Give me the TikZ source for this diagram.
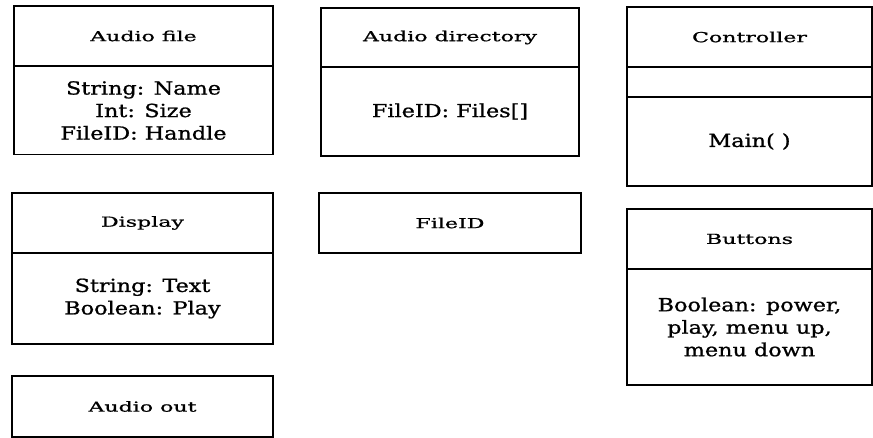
\documentclass[tikz,border=0pt]{standalone}
\usepackage{fontspec}
\setmainfont{DejaVu Serif}
\newfontfamily\hdrfont[FakeStretch=1.6,FakeBold=0.8]{DejaVu Serif}
\newfontfamily\bodyfont[FakeStretch=1.24,FakeBold=1]{DejaVu Serif}
\begin{document}
\begin{tikzpicture}[x=1pt,y=-1pt,
  cell/.style={draw, line width=1.5pt, inner sep=0pt, align=center,
    font=\bodyfont\fontsize{18}{22.5}\selectfont},
  hdr/.style={cell, font=\hdrfont\fontsize{13.8}{16}\selectfont}]
\useasboundingbox (0,0) rectangle (873,438);
% Audio file
\node[hdr, minimum width=259pt, minimum height=60pt] (afh) at (143.5,36) {Audio file};
\node[cell, minimum width=259pt, minimum height=88pt] (afb) at (143.5,110.5) {String: Name\\Int: Size\\FileID: Handle};
% Audio directory
\node[hdr, minimum width=258pt, minimum height=59pt] (adh) at (450,37.5) {Audio directory};
\node[cell, minimum width=258pt, minimum height=89pt] (adb) at (450,111.5) {FileID: Files[]};
% Controller
\node[hdr, minimum width=245pt, minimum height=60pt] (ch) at (749.5,37) {Controller};
\node[cell, minimum width=245pt, minimum height=30pt] (cm) at (749.5,82) {};
\node[cell, minimum width=245pt, minimum height=89pt] (cb) at (749.5,141.5) {Main( )};
% Display
\node[hdr, minimum width=261pt, minimum height=60pt] (dh) at (142.5,223) {Display};
\node[cell, minimum width=261pt, minimum height=91pt] (db) at (142.5,298.5) {String: Text\\Boolean: Play};
% Audio out
\node[hdr, minimum width=261pt, minimum height=61pt] (ao) at (142.5,406.5) {Audio out};
% FileID
\node[hdr, minimum width=262pt, minimum height=60pt] (fid) at (450,223) {FileID};
% Buttons
\node[hdr, minimum width=245pt, minimum height=60pt] (bh) at (749.5,239) {Buttons};
\node[cell, minimum width=245pt, minimum height=116pt] (bb) at (749.5,327) {Boolean: power,\\play, menu up,\\menu down};
\end{tikzpicture}
\end{document}
